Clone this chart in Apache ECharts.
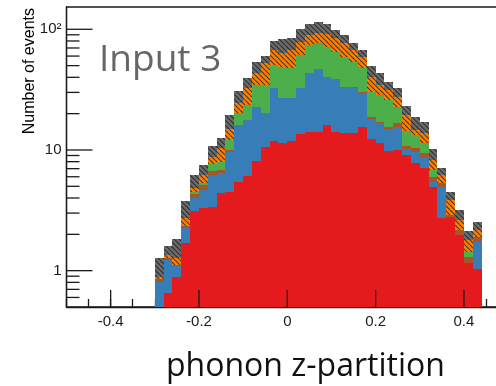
<!DOCTYPE html>
<html>
<head>
<meta charset="utf-8">
<script src="https://cdn.jsdelivr.net/npm/echarts@6/dist/echarts.min.js"></script>
<style>
html,body{margin:0;padding:0;background:#fff;}
#chart{width:496px;height:386px;}
</style>
</head>
<body>
<div id="chart"></div>
<script>
// ---------------- data ----------------
const BIN_WIDTH = 0.02;
const binStarts = [-0.30,-0.28,-0.26,-0.24,-0.22,-0.20,-0.18,-0.16,-0.14,-0.12,-0.10,-0.08,-0.06,-0.04,-0.02,
  0.00,0.02,0.04,0.06,0.08,0.10,0.12,0.14,0.16,0.18,0.20,0.22,0.24,0.26,0.28,0.30,0.32,0.34,0.36,0.38,0.40,0.42];

const redValues    = [0, 0.65, 0.89, 1.69, 3.12, 3.30, 3.39, 4.38, 4.45, 5.40, 6.10, 8.10, 10.6, 11.9, 11.4, 11.9, 13.6, 14.2, 14.2, 16.1, 14.2, 13.7, 13.9, 15.4, 12.3, 11.5, 9.8, 10.0, 9.1, 7.76, 7.05, 4.9, 2.72, 2.8, 1.98, 1.16, 1.03];
const blueValues   = [0.80, 0.58, 0.20, 0.56, 0.88, 1.40, 2.81, 2.02, 5.25, 10.7, 11.6, 14.8, 9.5, 20.9, 15.4, 14.9, 19.2, 29.0, 32.4, 24.4, 24.3, 19.8, 18.9, 14.1, 5.8, 5.1, 5.0, 5.6, 1.0, 1.94, 1.45, 0.56, 2.25, 0, 0, 0, 0.71];
const brownValues  = [0.05, 0.05, 0.02, 0.10, 0.30, 0.40, 0.50, 0.40, 0.30, 0, 0, 0, 0, 0, 0, 0, 0, 0, 0, 0, 0, 0, 0.4, 0.5, 0.8, 0.6, 0.8, 1.0, 0.7, 0.6, 1.0, 0.54, 0.33, 0.09, 0.19, 0.15, 0.15];
const greenValues  = [0, 0, 0, 0, 0.15, 0.20, 0.90, 1.10, 2.00, 4.0, 5.9, 11.7, 14.5, 17.8, 22.2, 20.7, 28.4, 30.9, 30.0, 31.3, 26.7, 25.8, 20.8, 17.5, 11.5, 11.4, 10.3, 5.9, 3.7, 3.0, 1.9, 0.83, 0, 0, 0, 0.13, 0];
const orangeValues = [0.04, 0.07, 0.16, 0.37, 0.40, 0.90, 1.20, 2.40, 3.00, 4.3, 8.9, 8.6, 17.7, 16.7, 14.3, 19.8, 17.7, 15.6, 17.1, 19.6, 19.0, 17.3, 13.3, 11.8, 10.1, 6.0, 5.5, 5.2, 5.0, 1.4, 2.3, 1.43, 0.91, 0.96, 0.46, 0.36, 0.28];
const grayValues   = [0.38, 0.26, 0.55, 1.06, 1.40, 1.30, 2.00, 2.30, 4.50, 6.6, 6.8, 10.8, 7.7, 13.2, 19.3, 16.9, 21.1, 21.0, 21.9, 19.3, 14.5, 13.1, 10.1, 8.0, 9.4, 8.6, 5.4, 4.7, 3.7, 4.0, 3.3, 1.94, 0.84, 0.67, 0.55, 0.34, 0.38];

const xTickLabels = ['-0.4', '-0.2', '0', '0.2', '0.4'];
const xMajorTicks = [-0.4, -0.2, 0, 0.2, 0.4];
const yMajorTicks = [1, 10, 100];
const yMinorTicks = [0.6, 0.7, 0.8, 0.9, 2, 3, 4, 5, 6, 7, 8, 9, 20, 30, 40, 50, 60, 70, 80, 90];

// ---------------- setup ----------------
const X_MIN = -0.5, X_MAX = 0.5;
const Y_MIN = 0.5, Y_MAX = 153;

function hatch(bg, line) {
  const s = 5;
  const c = document.createElement('canvas');
  c.width = s; c.height = s;
  const g = c.getContext('2d');
  g.fillStyle = bg; g.fillRect(0, 0, s, s);
  g.strokeStyle = line; g.lineWidth = 1.1;
  g.beginPath();
  for (let k = -1; k <= 1; k++) { g.moveTo(k * s, 0); g.lineTo(k * s + s, s); }
  g.stroke();
  return { image: c, repeat: 'repeat' };
}

const layers = [
  { name: 'red',    values: redValues,    fill: '#E41A1C' },
  { name: 'blue',   values: blueValues,   fill: '#377EB8' },
  { name: 'brown',  values: brownValues,  fill: '#A65628' },
  { name: 'green',  values: greenValues,  fill: '#4DAF4A' },
  { name: 'orange', values: orangeValues, fill: hatch('#FF7F00', 'rgba(40,40,40,0.85)') },
  { name: 'gray',   values: grayValues,   fill: hatch('#6B6B6B', 'rgba(30,30,30,0.8)') }
];

const cum = binStarts.map(() => 0);
const series = layers.map(layer => {
  const data = binStarts.map((x0, i) => {
    const lo = cum[i];
    const hi = lo + layer.values[i];
    cum[i] = hi;
    return [x0, x0 + BIN_WIDTH, Math.max(lo, Y_MIN), Math.max(hi, Y_MIN)];
  });
  return {
    type: 'custom',
    name: layer.name,
    data: data,
    encode: { x: [0, 1], y: [2, 3] },
    clip: true,
    renderItem: function (params, api) {
      const lo = api.value(2), hi = api.value(3);
      if (!(hi > lo)) return null;
      const a = api.coord([api.value(0), hi]);
      const b = api.coord([api.value(1), lo]);
      const x = Math.round(a[0]), y = Math.round(a[1]);
      return {
        type: 'rect',
        shape: { x: x, y: y, width: Math.round(b[0]) - x, height: Math.round(b[1]) - y },
        style: { fill: layer.fill }
      };
    }
  };
});

function tickSeries(data, horizontal, len) {
  return {
    type: 'custom',
    data: data,
    clip: false,
    silent: true,
    z: 10,
    encode: { x: 0, y: 1 },
    renderItem: function (params, api) {
      const p = api.coord([api.value(0), api.value(1)]);
      const shape = horizontal
        ? { x1: p[0], y1: p[1], x2: p[0] + len, y2: p[1] }
        : { x1: p[0], y1: p[1], x2: p[0], y2: p[1] - len };
      return { type: 'line', shape: shape, style: { stroke: '#1a1a1a', lineWidth: 1.3 } };
    }
  };
}

series.push(tickSeries(yMajorTicks.map(v => [X_MIN, v]), true, 26));
series.push(tickSeries(yMinorTicks.map(v => [X_MIN, v]), true, 13));
series.push(tickSeries(xMajorTicks.map(v => [v, Y_MIN]), false, 17));

const chart = echarts.init(document.getElementById('chart'), null, { renderer: 'canvas' });
chart.setOption({
  animation: false,
  backgroundColor: '#ffffff',
  grid: {
    left: 66.5, top: 7, width: 441.6, height: 300,
    outerBoundsMode: 'none', containLabel: false,
    show: true, borderColor: '#1a1a1a', borderWidth: 1.3, backgroundColor: 'transparent'
  },
  xAxis: {
    type: 'value', min: X_MIN, max: X_MAX, interval: 0.05,
    axisLine: { show: true, onZero: false, lineStyle: { color: '#1a1a1a', width: 1.3 } },
    axisTick: { show: true, inside: true, length: 8, lineStyle: { color: '#1a1a1a', width: 1.3 } },
    splitLine: { show: false },
    axisLabel: {
      color: '#1a1a1a', fontSize: 15, fontFamily: 'Liberation Sans', margin: 7,
      showMinLabel: true, showMaxLabel: true,
      formatter: function (v) {
        const idx = xMajorTicks.findIndex(t => Math.abs(t - v) < 1e-6);
        return idx >= 0 ? xTickLabels[idx] : '';
      }
    }
  },
  yAxis: {
    type: 'log', min: Y_MIN, max: Y_MAX, logBase: 10,
    axisLine: { show: true, onZero: false, lineStyle: { color: '#1a1a1a', width: 1.3 } },
    axisTick: { show: false },
    splitLine: { show: false },
    axisLabel: {
      color: '#1a1a1a', fontSize: 15, fontFamily: 'Liberation Sans', margin: 5,
      formatter: function (v) {
        const l = Math.log10(v);
        if (Math.abs(l - Math.round(l)) > 1e-6) return '';
        const e = Math.round(l);
        if (e === 0) return '1';
        if (e === 1) return '10';
        if (e === 2) return '10²';
        return '';
      }
    }
  },
  graphic: [
    {
      type: 'text', x: 30, y: 8, rotation: Math.PI / 2,
      style: { text: 'Number of events', fill: '#000000', font: '16px "Liberation Sans"', align: 'right', verticalAlign: 'middle' }
    },
    {
      type: 'text', left: 99, top: 42,
      style: { text: 'Input 3', fill: '#666666', font: '37px "Open Sans"' }
    },
    {
      type: 'text', left: 166, top: 351,
      style: { text: 'phonon z-partition', fill: '#111111', font: '32px "Open Sans"' }
    }
  ],
  series: series
});
</script>
</body>
</html>
